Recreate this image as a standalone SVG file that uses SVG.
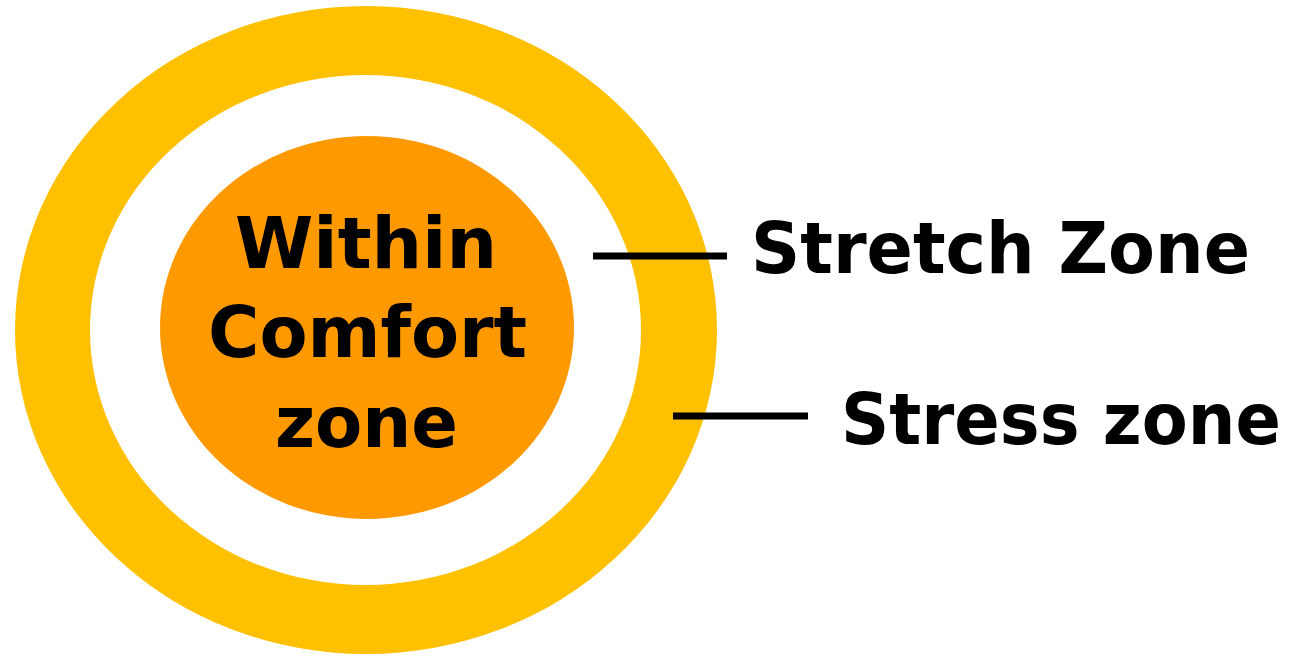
<svg xmlns="http://www.w3.org/2000/svg" width="1290" height="656" viewBox="0 0 1290 656">
  <style>
    .label { font-family: "DejaVu Sans", "Liberation Sans", sans-serif; font-weight: bold; fill: #000; }
    .leader { stroke: #000; stroke-width: 7; fill: none; }
  </style>
  <rect width="1290" height="656" fill="#fff"/>

  <!-- Outer ring: stress zone -->
  <g id="stress-zone">
    <ellipse cx="366" cy="330" rx="351" ry="324" fill="#FFC000"/>
  </g>

  <!-- Middle band: stretch zone -->
  <g id="stretch-zone">
    <ellipse cx="365.5" cy="330" rx="275.5" ry="255" fill="#fff"/>
  </g>

  <!-- Core: comfort zone -->
  <g id="comfort-zone">
    <ellipse cx="367" cy="327.5" rx="207" ry="191.5" fill="#FF9900"/>
    <text class="label" font-size="72" x="235" y="268" textLength="262" lengthAdjust="spacingAndGlyphs">Within</text>
    <text class="label" font-size="72" x="208" y="357" textLength="319" lengthAdjust="spacingAndGlyphs">Comfort</text>
    <text class="label" font-size="72" x="275" y="447" textLength="183" lengthAdjust="spacingAndGlyphs">zone</text>
  </g>

  <!-- Leader lines -->
  <g id="connectors">
    <line class="leader" x1="593" y1="256" x2="727" y2="256"/>
    <line class="leader" x1="673" y1="416" x2="808" y2="416"/>
  </g>

  <g id="stretch-label">
    <text class="label" font-size="71" x="751" y="273" textLength="499" lengthAdjust="spacingAndGlyphs">Stretch Zone</text>
  </g>
  <g id="stress-label">
    <text class="label" font-size="71" x="841" y="444" textLength="440" lengthAdjust="spacingAndGlyphs">Stress zone</text>
  </g>
</svg>
